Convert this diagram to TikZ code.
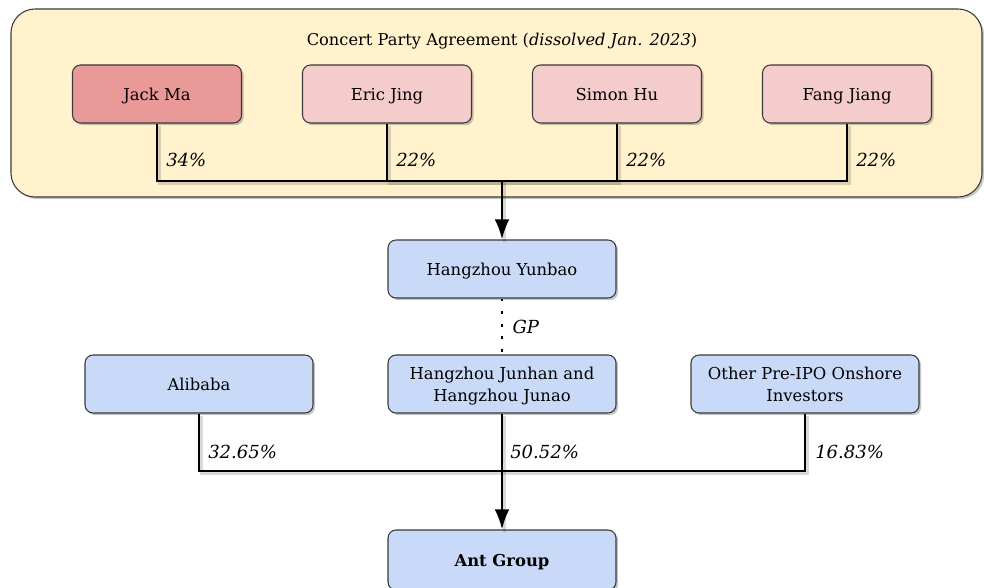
\documentclass[tikz,border=0pt]{standalone}
\usepackage{fontspec}
\setmainfont{DejaVu Serif}
\usetikzlibrary{arrows.meta,shadows}
\definecolor{groupfill}{HTML}{FFF2CC}
\definecolor{jackfill}{HTML}{EA9999}
\definecolor{personfill}{HTML}{F4CCCC}
\definecolor{entfill}{HTML}{C9DAF8}
\definecolor{edgecol}{HTML}{3A3A3A}
\begin{document}
\begin{tikzpicture}[x=0.75pt,y=-0.75pt,
  shade/.style={drop shadow={shadow xshift=1.6pt,shadow yshift=-1.6pt,opacity=0.22,fill=black}},
  box/.style={draw=edgecol,line width=0.8pt,rounded corners=6pt,minimum height=43.5pt,align=center,inner sep=2pt,font=\fontsize{12.3}{16.3}\selectfont,shade},
  oneline/.style={text height=10.5pt,text depth=1.1pt},
  twoline/.style={text depth=-1pt},
  person/.style={box,oneline,fill=personfill,minimum width=126.75pt},
  entity/.style={box,fill=entfill,minimum width=171pt},
  link/.style={line width=1.9pt,black},
  linkshade/.style={line width=2.4pt,black,opacity=0.15,transform canvas={shift={(1.6pt,-1.6pt)}}},
  tip/.style={-{Latex[length=15pt,width=11pt]}},
  pct/.style={font=\fontsize{13.5}{16}\selectfont\itshape,anchor=west,inner sep=0pt}]
\useasboundingbox (0,0) rectangle (984,588);
% container
\node (group) [draw=edgecol,fill=groupfill,rounded corners=18pt,line width=0.8pt,shade,
  minimum width=728.25pt,minimum height=141pt,inner sep=0pt] at (496.5,103) {};
\node (title) [font=\fontsize{12.2}{14}\selectfont] at (502,41) {Concert Party Agreement (\textit{dissolved Jan. 2023})};
% people
\node (jack) [person,fill=jackfill] at (157,94) {Jack Ma};
\node (eric) [person] at (387,94) {Eric Jing};
\node (simon) [person] at (617,94) {Simon Hu};
\node (fang) [person] at (847,94) {Fang Jiang};
\coordinate (bus1) at (502,181);
% entities
\node (yunbao) [entity,oneline] at (502,269) {Hangzhou Yunbao};
\node (alibaba) [entity,oneline] at (199,384) {Alibaba};
\node (junhan) [entity,twoline] at (502,384) {Hangzhou Junhan and\\Hangzhou Junao};
\node (other) [entity,twoline] at (805,384) {Other Pre-IPO Onshore\\Investors};
\coordinate (bus2) at (502,471);
\node (ant) [entity,oneline,minimum height=45pt,font=\fontsize{12.3}{14.5}\selectfont\bfseries] at (502,560) {Ant Group};
% shadows of connectors
\foreach \p in {jack,eric,simon,fang} \draw[linkshade] (\p.south) |- (bus1);
\draw[linkshade] (bus1) -- (yunbao.north);
\foreach \p in {alibaba,other} \draw[linkshade] (\p.south) |- (bus2);
\draw[linkshade] (junhan.south) -- (ant.north);
% connectors
\foreach \p in {jack,eric,simon,fang} \draw[link] (\p.south) |- (bus1);
\draw[link,tip] (bus1) -- (yunbao.north);
\draw[link,dash pattern=on 2.2pt off 7.2pt] (yunbao.south) -- node[pct,right=7pt] {GP} (junhan.north);
\foreach \p in {alibaba,other} \draw[link] (\p.south) |- (bus2);
\draw[link] (junhan.south) -- (bus2);
\draw[link,tip] (bus2) -- (ant.north);
% percentages
\node (p1) [pct] at (166,160) {34\%};
\node (p2) [pct] at (396,160) {22\%};
\node (p3) [pct] at (626,160) {22\%};
\node (p4) [pct] at (856,160) {22\%};
\node (p5) [pct] at (208,452) {32.65\%};
\node (p6) [pct] at (510,452) {50.52\%};
\node (p7) [pct] at (815,452) {16.83\%};
\end{tikzpicture}
\end{document}
